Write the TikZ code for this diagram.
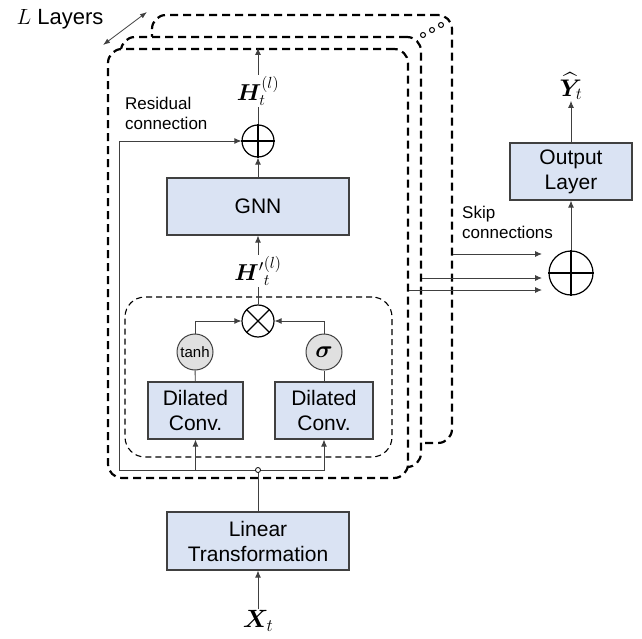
\RequirePackage{fix-cm}
\documentclass[tikz,border=0pt]{standalone}
\usepackage{amsmath}
\usepackage{bm}
\usepackage{fontspec}
\setmainfont{Liberation Sans}
\usetikzlibrary{arrows.meta,positioning}
\definecolor{boxblue}{RGB}{218,227,243}
\definecolor{linegray}{RGB}{64,64,64}

\begin{document}
\begin{tikzpicture}[
    x=1pt, y=-1pt,
    block/.style={draw=linegray, line width=1.2pt, fill=boxblue, minimum width=182pt, minimum height=57pt, align=center, font=\fontsize{21}{25}\selectfont},
    layer/.style={draw, line width=2.2pt, dash pattern=on 8pt off 5pt, rounded corners=14pt, fill=white, minimum width=300pt, minimum height=429pt},
    gatebox/.style={draw, line width=1.1pt, dash pattern=on 6pt off 4pt, rounded corners=20pt, minimum width=267pt, minimum height=160pt},
    op/.style={draw, circle, line width=1.2pt, minimum size=32pt, inner sep=0pt},
    act/.style={draw=linegray, circle, fill=black!12, line width=1pt, minimum size=36pt, inner sep=0pt},
    arrow/.style={-{Latex[length=7pt,width=6pt]}, line width=0.9pt, draw=linegray},
    link/.style={line width=0.9pt, draw=linegray},
    lbl/.style={font=\fontsize{17}{20}\selectfont, align=left, inner sep=0pt},
    mathlbl/.style={font=\fontsize{23}{27}\selectfont, inner sep=1pt}
]
    \useasboundingbox (0,0) rectangle (642,639);

    % Stacked layers
    \node [layer, minimum height=428pt] (back) at (302,229) {};
    \node [layer, minimum height=430pt] (middle) at (271,252) {};
    \node [layer] (front) at (258,263.5) {};
    \foreach \dx/\dy in {423/35, 432/30, 441/25}
        \draw [line width=1pt] (\dx,\dy) circle (2.5pt);

    % L Layers
    \node [font=\fontsize{22}{26}\selectfont] (nlayers) at (60,19) {$L$ Layers};
    \coordinate (lfront) at (103,45);
    \coordinate (lback) at (147,12);
    \draw [{Latex[length=7pt,width=5pt]}-{Latex[length=7pt,width=5pt]}, line width=0.8pt, draw=linegray] (lfront) -- (lback);

    % Gated temporal part
    \node [gatebox] (gate) at (258.5,377) {};
    \node [block, minimum width=95pt] (convL) at (195.5,410.5) {Dilated\\Conv.};
    \node [block, minimum width=98pt] (convR) at (324,410.5) {Dilated\\Conv.};
    \node [act, font=\fontsize{15}{17}\selectfont] (tanh) at (195,352) {tanh};
    \node [act, font=\fontsize{24}{28}\selectfont] (sigm) at (324,352) {$\bm{\sigma}$};
    \node [op] (mult) at (258,321) {};
    \draw [line width=1.2pt] (mult.north west) -- (mult.south east) (mult.north east) -- (mult.south west);

    % GNN and residual sum
    \node [mathlbl] (Hp) at (258,271) {${\bm{H}^{\prime}}_t^{(l)}$};
    \node [block] (gnn) at (258,206.5) {GNN};
    \node [op] (res) at (258,141) {};
    \draw [line width=1.2pt] (res.north) -- (res.south) (res.west) -- (res.east);
    \node [mathlbl] (Hl) at (258,91) {$\bm{H}_t^{(l)}$};
    \node [lbl, anchor=north west] (reslbl) at (125,97) {Residual\\connection};

    % Input
    \node [block, minimum height=58pt] (linear) at (258,541) {Linear\\Transformation};
    \node [mathlbl, font=\fontsize{25}{29}\selectfont] (Xt) at (258,621) {$\bm{X}_t$};
    \coordinate (junc) at (258,470);
    \coordinate (resbot) at (119,470);

    % Output side
    \node [block, minimum width=122pt] (outlayer) at (571,171.5) {Output\\Layer};
    \node [mathlbl, font=\fontsize{24}{28}\selectfont] (Yt) at (571,86) {$\widehat{\bm{Y}}_t$};
    \node [op, minimum size=44pt] (sum) at (571,273) {};
    \draw [line width=1.2pt] (sum.north) -- (sum.south) (sum.west) -- (sum.east);
    \node [lbl, anchor=north west] (skiplbl) at (462,206) {Skip\\connections};
    \coordinate (tipA) at (542,254);
    \coordinate (tipB) at (542,278);
    \coordinate (tipC) at (542,290);

    % Arrows inside the layer
    \draw [arrow] (Xt) -- (linear);
    \draw [link] (linear) -- (junc);
    \draw [arrow] (junc) -| (convL.south);
    \draw [arrow] (junc) -| (convR.south);
    \draw [arrow] (junc) -- (resbot) |- (res.west);
    \draw [link] (convL) -- (tanh);
    \draw [link] (convR) -- (sigm);
    \draw [arrow] (tanh) |- (mult.west);
    \draw [arrow] (sigm) |- (mult.east);
    \draw [link] (mult) -- (Hp);
    \draw [arrow] (Hp) -- (gnn);
    \draw [arrow] (gnn) -- (res);
    \draw [link] (res) -- (Hl);
    \draw [arrow] (Hl) -- (front.north);
    \draw [fill=white, line width=0.8pt] (junc) circle (2.5pt);

    % Skip connections
    \draw [arrow] (tipA -| back.east) -- (tipA);
    \draw [arrow] (tipB -| middle.east) -- (tipB);
    \draw [arrow] (tipC -| front.east) -- (tipC);
    \draw [arrow] (sum) -- (outlayer);
    \draw [arrow] (outlayer) -- (Yt);

\end{tikzpicture}
\end{document}
